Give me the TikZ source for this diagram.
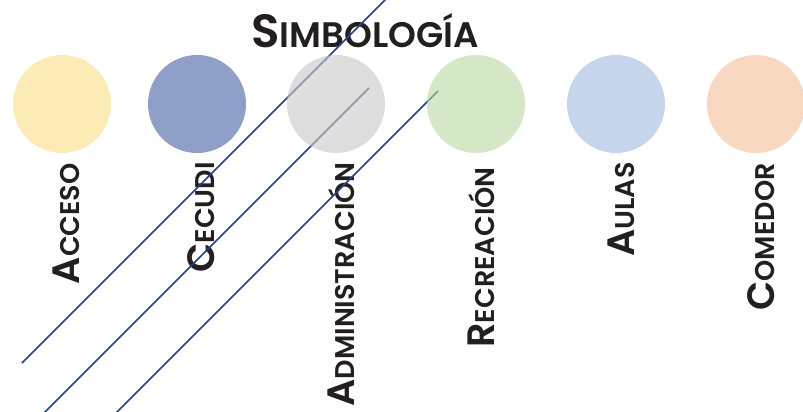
\documentclass[tikz,border=0pt]{standalone}
\usepackage{fontspec}
\setmainfont{Poppins}[BoldFont={Poppins SemiBold}]
\usepackage{xcolor}
\usetikzlibrary{positioning,calc}

\definecolor{cAcceso}{HTML}{FCDE84}
\definecolor{cCecudi}{HTML}{465FA3}
\definecolor{cAdmin}{HTML}{C8C8C8}
\definecolor{cRecreo}{HTML}{B7D7A0}
\definecolor{cAulas}{HTML}{A0B7DF}
\definecolor{cComedor}{HTML}{F5BE98}
\definecolor{lineblue}{HTML}{22409A}
\definecolor{ink}{HTML}{231F20}

% big first letter, rest in smaller capitals
\newcommand{\scword}[2]{{\fontsize{28.6}{28.6}\selectfont #1}{\fontsize{20.3}{20.3}\selectfont #2}}

\begin{document}
\begin{tikzpicture}[x=0.75pt,y=-0.75pt, every node/.style={font=\bfseries,text=ink,inner sep=0pt}, dot/.style={circle,minimum size=73.5pt,fill opacity=0.6}, lbl/.style={rotate=90,anchor=east}, hatch/.style={draw=lineblue,line width=1.3pt}]
\clip (0,0) rectangle (803,411);
\node (title) at (365,31) {{\fontsize{35}{35}\selectfont S}{\fontsize{26.6}{26.6}\selectfont IMBOLOGÍA}};
% labels
\node[lbl] (lacc) at (66,163) {\scword{A}{CCESO}};
\node[lbl] (lcec) at (201,162) {\scword{C}{ECUDI}};
\node[lbl] (ladm) at (341,162) {\scword{A}{DMINISTRACIÓN}};
\node[lbl] (lrec) at (481,167) {\scword{R}{ECREACIÓN}};
\node[lbl] (laul) at (621,162) {\scword{A}{ULAS}};
\node[lbl] (lcom) at (761,163) {\scword{C}{OMEDOR}};
% diagonal strokes
\draw[hatch] (22,363) -- (389,-4);
\draw[hatch] (369,88) -- (43,414);
\draw[hatch] (438,91) -- (115,414);
% circles
\node[dot,fill=cAcceso] (acc) at (62,104) {};
\node[dot,fill=cCecudi] (cec) at (197,104) {};
\node[dot,fill=cAdmin] (adm) at (336,104) {};
\node[dot,fill=cRecreo] (rec) at (476,104) {};
\node[dot,fill=cAulas] (aul) at (616,104) {};
\node[dot,fill=cComedor] (com) at (756,104) {};
\end{tikzpicture}
\end{document}
